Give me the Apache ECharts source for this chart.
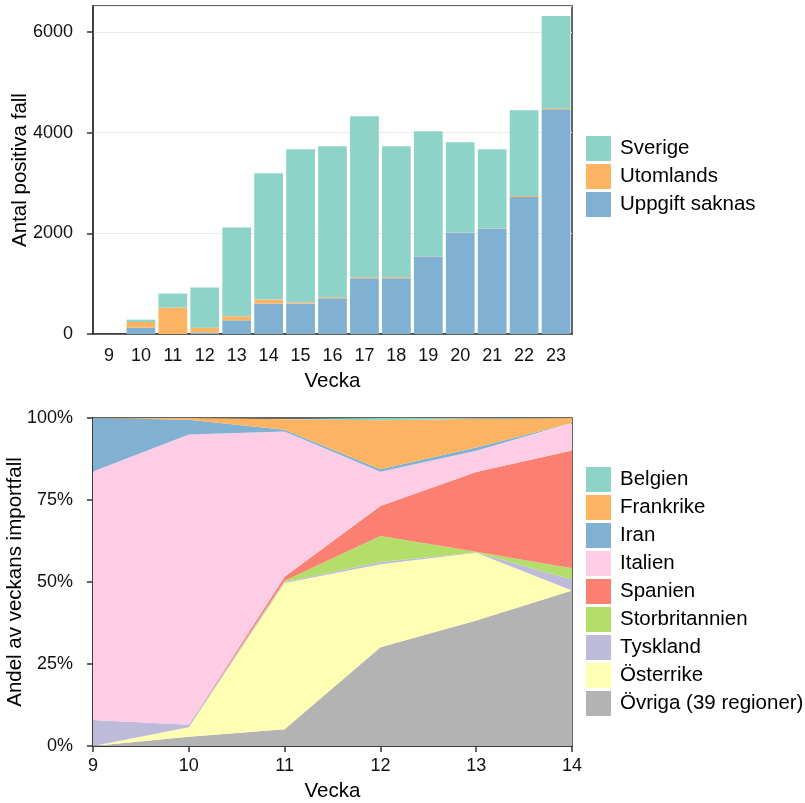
<!DOCTYPE html>
<html>
<head>
<meta charset="utf-8">
<script src="https://cdn.jsdelivr.net/npm/echarts@6/dist/echarts.min.js"></script>
<style>
  html, body { margin: 0; padding: 0; background: #fff; }
  #chart { width: 805px; height: 803px; }
</style>
</head>
<body>
<div id="chart"></div>
<script>
// Weekly positive cases, split by where the infection happened
const weeks = ['9', '10', '11', '12', '13', '14', '15', '16', '17', '18', '19', '20', '21', '22', '23'];
const uppgiftSaknas = [0, 126, 0, 27, 272, 604, 604, 710, 1108, 1108, 1539, 2017, 2096, 2720, 4464];
const utomlands = [1, 113, 524, 99, 80, 79, 26, 20, 20, 20, 5, 3, 3, 20, 20];
const sverige = [0, 46, 279, 796, 1764, 2508, 3038, 2998, 3197, 2600, 2483, 1788, 1569, 1704, 1831];

// Share of imported cases per country of infection (percent), weeks 9-14
const importWeeks = ['9', '10', '11', '12', '13', '14'];
const ovriga = [0, 2.8, 5.1, 30.1, 38.3, 47.4];
const osterrike = [0, 2.9, 44.6, 25.3, 20.6, 0];
const tyskland = [7.9, 0.8, 0.3, 0.7, 0.1, 3.4];
const storbritannien = [0, 0, 0.4, 7.9, 0.2, 3.4];
const spanien = [0, 0, 1.2, 9.2, 24.3, 35.9];
const italien = [75.8, 88.5, 44.3, 10.4, 6.5, 8.2];
const iran = [16.3, 4.5, 0.5, 0.8, 1.0, 0.2];
const frankrike = [0, 0.5, 3.2, 14.9, 8.8, 1.5];
const belgien = [0, 0, 0, 0.7, 0.2, 0];

const FONT = 'Liberation Sans, Arial, sans-serif';
const AXIS_COLOR = '#333333';

const chart = echarts.init(document.getElementById('chart'), null, { renderer: 'canvas' });

function barSeries(name, data, color) {
  return {
    name, type: 'bar', stack: 'fall', data,
    xAxisIndex: 0, yAxisIndex: 0,
    barCategoryGap: '10%',
    itemStyle: { color },
    emphasis: { disabled: true }
  };
}

function areaSeries(name, data, color) {
  return {
    name, type: 'line', stack: 'andel', data,
    xAxisIndex: 1, yAxisIndex: 1,
    showSymbol: false, symbol: 'none',
    lineStyle: { width: 0, color },
    areaStyle: { color, opacity: 1 },
    itemStyle: { color },
    emphasis: { disabled: true }
  };
}

const tickLabel = { fontFamily: FONT, fontSize: 18, color: '#111' };
const titleStyle = { fontFamily: FONT, fontSize: 20.5, color: '#000' };
const legendBase = {
  orient: 'vertical', left: 581, icon: 'rect',
  itemWidth: 25, itemHeight: 25, itemGap: 3,
  selectedMode: false,
  itemStyle: { borderWidth: 0 },
  textStyle: { fontFamily: FONT, fontSize: 20.5, color: '#000', padding: [0, 0, 0, 4] }
};

const gridBase = { width: 479, height: 328, left: 93, show: true, borderColor: AXIS_COLOR, borderWidth: 1.5,
  containLabel: false, outerBoundsMode: 'none' };

const option = {
  animation: false,
  legend: [
    Object.assign({}, legendBase, { top: 131, data: ['Sverige', 'Utomlands', 'Uppgift saknas'] }),
    Object.assign({}, legendBase, {
      top: 462,
      data: ['Belgien', 'Frankrike', 'Iran', 'Italien', 'Spanien', 'Storbritannien', 'Tyskland', 'Österrike', 'Övriga (39 regioner)']
    })
  ],
  grid: [
    Object.assign({}, gridBase, { top: 6 }),
    Object.assign({}, gridBase, { top: 418 })
  ],
  xAxis: [
    {
      type: 'category', gridIndex: 0, data: weeks,
      name: 'Vecka', nameLocation: 'middle', nameGap: 37, nameMoveOverlap: false, nameTextStyle: titleStyle,
      axisLine: { lineStyle: { color: AXIS_COLOR, width: 1.5 } },
      axisTick: { alignWithLabel: true, length: 6, lineStyle: { color: AXIS_COLOR, width: 1.5 } },
      axisLabel: Object.assign({ margin: 13 }, tickLabel)
    },
    {
      type: 'category', gridIndex: 1, data: importWeeks, boundaryGap: false,
      name: 'Vecka', nameLocation: 'middle', nameGap: 35, nameMoveOverlap: false, nameTextStyle: titleStyle,
      axisLine: { lineStyle: { color: AXIS_COLOR, width: 1.5 } },
      axisTick: { length: 6, lineStyle: { color: AXIS_COLOR, width: 1.5 } },
      axisLabel: Object.assign({ margin: 11 }, tickLabel)
    }
  ],
  yAxis: [
    {
      type: 'value', gridIndex: 0, min: 0, max: 6513, interval: 2000,
      name: 'Antal positiva fall', nameLocation: 'middle', nameGap: 62, nameMoveOverlap: false, nameTextStyle: titleStyle,
      axisLine: { show: true, lineStyle: { color: AXIS_COLOR, width: 1.5 } },
      axisTick: { show: true, length: 6, lineStyle: { color: AXIS_COLOR, width: 1.5 } },
      axisLabel: Object.assign({ margin: 20, showMaxLabel: false,
        formatter: v => (v % 2000 === 0 ? String(v) : '') }, tickLabel),
      splitLine: { show: true, lineStyle: { color: '#EBEBEB', width: 1 } }
    },
    {
      type: 'value', gridIndex: 1, min: 0, max: 100, interval: 25,
      name: 'Andel av veckans importfall', nameLocation: 'middle', nameGap: 67, nameMoveOverlap: false, nameTextStyle: titleStyle,
      axisLine: { show: true, lineStyle: { color: AXIS_COLOR, width: 1.5 } },
      axisTick: { show: true, length: 6, lineStyle: { color: AXIS_COLOR, width: 1.5 } },
      axisLabel: Object.assign({ margin: 20, formatter: v => v + '%' }, tickLabel),
      splitLine: { show: false }
    }
  ],
  series: [
    barSeries('Uppgift saknas', uppgiftSaknas, '#80B1D3'),
    barSeries('Utomlands', utomlands, '#FDB462'),
    barSeries('Sverige', sverige, '#8DD3C7'),
    areaSeries('Övriga (39 regioner)', ovriga, '#B3B3B3'),
    areaSeries('Österrike', osterrike, '#FFFFB3'),
    areaSeries('Tyskland', tyskland, '#BEBADA'),
    areaSeries('Storbritannien', storbritannien, '#B3DE69'),
    areaSeries('Spanien', spanien, '#FB8072'),
    areaSeries('Italien', italien, '#FCCDE5'),
    areaSeries('Iran', iran, '#80B1D3'),
    areaSeries('Frankrike', frankrike, '#FDB462'),
    areaSeries('Belgien', belgien, '#8DD3C7')
  ]
};

chart.setOption(option);
</script>
</body>
</html>
